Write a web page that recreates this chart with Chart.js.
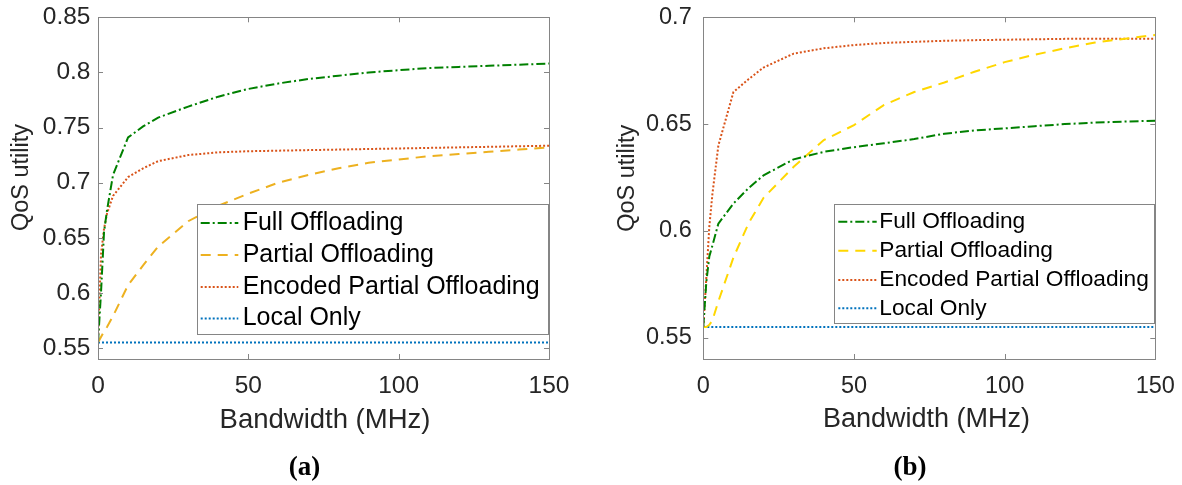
<!DOCTYPE html>
<html><head><meta charset="utf-8">
<script src="https://cdn.jsdelivr.net/npm/chart.js@4.4.0/dist/chart.umd.min.js"></script>
<style>
html,body{margin:0;padding:0;background:#fff;}
#wrap{position:relative;width:1182px;height:485px;overflow:hidden;}
canvas{position:absolute;top:0;}
</style></head><body>
<div id="wrap">
<canvas id="ca" width="591" height="485" style="left:0;width:591px;height:485px"></canvas>
<canvas id="cb" width="591" height="485" style="left:591px;width:591px;height:485px"></canvas>
</div>
<script>
// ---------- data ----------
const seriesNames = ['Full Offloading', 'Partial Offloading', 'Encoded Partial Offloading', 'Local Only'];
const bandwidth = [0, 1, 2, 3, 5, 10, 15, 20, 30, 40, 50, 60, 70, 80, 90, 100, 110, 120, 130, 140, 150];

// panel (a)
const fullA     = [0.555, 0.600, 0.655, 0.675, 0.707, 0.741, 0.751, 0.759, 0.769, 0.778, 0.785, 0.790, 0.794, 0.797, 0.800, 0.802, 0.804, 0.805, 0.806, 0.807, 0.808];
const partialA  = [0.555, 0.560, 0.565, 0.569, 0.579, 0.607, 0.625, 0.642, 0.665, 0.679, 0.690, 0.700, 0.707, 0.713, 0.718, 0.721, 0.724, 0.726, 0.728, 0.730, 0.732];
const encodedA  = [0.555, 0.635, 0.658, 0.672, 0.688, 0.705, 0.713, 0.7195, 0.725, 0.7275, 0.7285, 0.729, 0.7295, 0.730, 0.7305, 0.731, 0.7315, 0.732, 0.7325, 0.733, 0.7335];
const localA    = [0.555, 0.555, 0.555, 0.555, 0.555, 0.555, 0.555, 0.555, 0.555, 0.555, 0.555, 0.555, 0.555, 0.555, 0.555, 0.555, 0.555, 0.555, 0.555, 0.555, 0.555];

// panel (b)
const fullB     = [0.555, 0.576, 0.588, 0.593, 0.6034, 0.6128, 0.620, 0.626, 0.6335, 0.637, 0.6392, 0.641, 0.643, 0.6455, 0.647, 0.648, 0.649, 0.650, 0.6507, 0.6512, 0.6516];
const partialB  = [0.555, 0.555, 0.556, 0.558, 0.567, 0.5875, 0.6035, 0.6155, 0.630, 0.6425, 0.6495, 0.659, 0.665, 0.6695, 0.6745, 0.679, 0.6825, 0.6855, 0.6882, 0.690, 0.6917];
const encodedB  = [0.555, 0.578, 0.602, 0.617, 0.640, 0.665, 0.671, 0.6765, 0.683, 0.6855, 0.687, 0.688, 0.6885, 0.689, 0.6893, 0.6895, 0.6897, 0.6899, 0.690, 0.690, 0.690];
const localB    = [0.555, 0.555, 0.555, 0.555, 0.555, 0.555, 0.555, 0.555, 0.555, 0.555, 0.555, 0.555, 0.555, 0.555, 0.555, 0.555, 0.555, 0.555, 0.555, 0.555, 0.555];

// ticks
const xTicks = [0, 50, 100, 150];
const yTicksA = [0.55, 0.6, 0.65, 0.7, 0.75, 0.8, 0.85];
const yTickLabelsA = ['0.55', '0.6', '0.65', '0.7', '0.75', '0.8', '0.85'];
const yTicksB = [0.55, 0.6, 0.65, 0.7];
const yTickLabelsB = ['0.55', '0.6', '0.65', '0.7'];
const xTitle = 'Bandwidth (MHz)';
const yTitle = 'QoS utility';
const captions = ['(a)', '(b)'];

// ---------- drawing ----------
const SANS = '"Liberation Sans", Arial, Helvetica, sans-serif';
const SERIF = '"Liberation Serif", "Times New Roman", serif';
const AXIS = '#858585';
const TXT = '#262626';

const matlabAxes = {
  id: 'matlabAxes',
  afterDatasetsDraw(chart) {
    const o = chart.options.plugins.matlabAxes;
    const ctx = chart.ctx, a = chart.chartArea, xs = chart.scales.x, ys = chart.scales.y;
    ctx.save();
    ctx.strokeStyle = AXIS; ctx.lineWidth = 1; ctx.setLineDash([]);
    ctx.beginPath();
    ys.ticks.forEach(t => {
      const py = Math.round(ys.getPixelForValue(t.value)) + 0.5;
      ctx.moveTo(a.left, py); ctx.lineTo(a.left + 5, py);
      ctx.moveTo(a.right, py); ctx.lineTo(a.right - 5, py);
    });
    xs.ticks.forEach(t => {
      const px = Math.round(xs.getPixelForValue(t.value)) + 0.5;
      ctx.moveTo(px, a.bottom); ctx.lineTo(px, a.bottom - 5);
      ctx.moveTo(px, a.top); ctx.lineTo(px, a.top + 5);
    });
    ctx.stroke();
    const l = Math.round(a.left), t = Math.round(a.top), r = Math.round(a.right), b = Math.round(a.bottom);
    ctx.strokeRect(l + 0.5, t + 0.5, r - l, b - t);

    // legend box
    const L = o.legend;
    ctx.fillStyle = '#fff';
    ctx.fillRect(L.x, L.y, L.w, L.h);
    ctx.strokeStyle = AXIS;
    ctx.strokeRect(L.x + 0.5, L.y + 0.5, L.w, L.h);
    chart.data.datasets.forEach((ds, i) => {
      const ry = L.rows[i];
      ctx.save();
      ctx.strokeStyle = ds.borderColor; ctx.lineWidth = ds.borderWidth;
      ctx.setLineDash(ds.borderDash || []);
      ctx.beginPath(); ctx.moveTo(L.lx1, ry); ctx.lineTo(L.lx2, ry); ctx.stroke();
      ctx.restore();
      ctx.fillStyle = '#000'; ctx.font = L.fontSize + 'px ' + SANS;
      ctx.textBaseline = 'middle'; ctx.textAlign = 'left';
      ctx.fillText(ds.label, L.tx, ry);
    });

    // axis titles
    ctx.fillStyle = TXT; ctx.textAlign = 'center'; ctx.textBaseline = 'middle';
    ctx.font = o.xTitle.size + 'px ' + SANS;
    ctx.fillText(o.xTitle.text, o.xTitle.x, o.xTitle.y);
    ctx.save();
    ctx.translate(o.yTitle.x, o.yTitle.y); ctx.rotate(-Math.PI / 2);
    ctx.font = o.yTitle.size + 'px ' + SANS;
    ctx.fillText(o.yTitle.text, 0, 0);
    ctx.restore();
    // caption
    ctx.fillStyle = '#000';
    ctx.font = 'bold ' + o.caption.size + 'px ' + SERIF;
    ctx.fillText(o.caption.text, o.caption.x, o.caption.y);
    ctx.restore();
  }
};

function pairs(xs, ys) { return xs.map((x, i) => ({ x: x, y: ys[i] })); }

function makeChart(id, d, p) {
  return new Chart(document.getElementById(id), {
    type: 'line',
    data: {
      datasets: [
        { label: seriesNames[0], data: pairs(bandwidth, d.full), borderColor: '#008000', borderWidth: 2, borderDash: [9, 3, 2, 3] },
        { label: seriesNames[1], data: pairs(bandwidth, d.partial), borderColor: p.partialColor, borderWidth: 2, borderDash: [10, 7] },
        { label: seriesNames[2], data: pairs(bandwidth, d.encoded), borderColor: '#D95319', borderWidth: 2, borderDash: [2, 2] },
        { label: seriesNames[3], data: pairs(bandwidth, d.local), borderColor: '#0072BD', borderWidth: 2, borderDash: [2, 2] }
      ]
    },
    options: {
      responsive: false, animation: false, devicePixelRatio: 1,
      layout: { padding: { left: 0, top: 17.3, right: p.padRight, bottom: 45 } },
      elements: { point: { radius: 0 }, line: { tension: 0, fill: false } },
      plugins: {
        legend: { display: false }, tooltip: { enabled: false },
        matlabAxes: p.deco
      },
      scales: {
        x: {
          type: 'linear', min: 0, max: 150,
          afterBuildTicks: s => { s.ticks = xTicks.map(v => ({ value: v })); },
          ticks: { font: { family: SANS, size: p.tickSize }, color: TXT, padding: 13, maxRotation: 0, autoSkip: false,
                   callback: (v) => String(v) },
          grid: { display: false, drawTicks: false }, border: { display: false },
          afterFit: s => { s.height = 81; s.paddingLeft = 0; s.paddingRight = 0; }
        },
        y: {
          type: 'linear', min: p.ymin, max: p.ymax,
          afterBuildTicks: s => { s.ticks = p.yTicks.map(v => ({ value: v })); },
          ticks: { font: { family: SANS, size: p.tickSize }, color: TXT, padding: p.yPad, autoSkip: false,
                   callback: (v, i) => p.yLabels[i] },
          grid: { display: false, drawTicks: false }, border: { display: false },
          afterFit: s => { s.width = p.yWidth; s.paddingTop = 0; s.paddingBottom = 0; }
        }
      }
    },
    plugins: [matlabAxes]
  });
}

makeChart('ca', { full: fullA, partial: partialA, encoded: encodedA, local: localA }, {
  partialColor: '#EDB120', padRight: 42, ymin: 0.54, ymax: 0.85, yTicks: yTicksA, yLabels: yTickLabelsA,
  tickSize: 24.5, yPad: 7.5, yWidth: 98,
  deco: {
    legend: { x: 197, y: 204, w: 351, h: 130, rows: [223, 255, 287, 318.5], lx1: 200.7, lx2: 238.3, tx: 242.7, fontSize: 25 },
    xTitle: { text: xTitle, x: 325, y: 420, size: 27.5 },
    yTitle: { text: yTitle, x: 22, y: 177.5, size: 23.5 },
    caption: { text: captions[0], x: 304.4, y: 468, size: 27 }
  }
});

makeChart('cb', { full: fullB, partial: partialB, encoded: encodedB, local: localB }, {
  partialColor: '#FFD700', padRight: 26.7, ymin: 0.54, ymax: 0.7, yTicks: yTicksB, yLabels: yTickLabelsB,
  tickSize: 23.5, yPad: 11.6, yWidth: 112.3,
  deco: {
    legend: { x: 243, y: 204, w: 320, h: 119, rows: [221.7, 250.7, 280, 308.3], lx1: 247.3, lx2: 285.7, tx: 288.3, fontSize: 22.7 },
    xTitle: { text: xTitle, x: 335.5, y: 420, size: 27 },
    yTitle: { text: yTitle, x: 37, y: 178.3, size: 23.5 },
    caption: { text: captions[1], x: 319, y: 468, size: 27 }
  }
});
</script>
</body></html>
